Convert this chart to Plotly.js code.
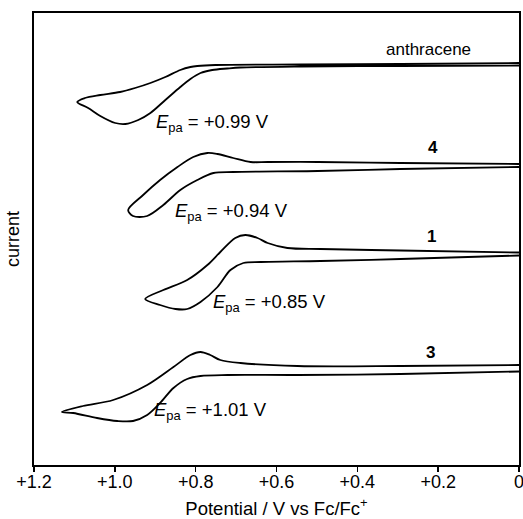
<!DOCTYPE html>
<html>
<head>
<meta charset="utf-8">
<script src="https://cdn.plot.ly/plotly-3.0.1.min.js"></script>
<style>html,body{margin:0;padding:0;background:#fff;}#chart{width:523px;height:519px;}</style>
</head>
<body>
<div id="chart"></div>
<script>
// Cyclic voltammograms (offset vertically, arbitrary current units)
// Each loop: forward scan from 0 V to the turning point, then the return scan back to 0 V.
const anthraceneE = [0.000, 0.293, 0.540, 0.689, 0.722, 0.759, 0.788, 0.813, 0.838, 0.875, 0.912, 0.942, 0.974, 0.999, 1.036, 1.066, 1.093,
                     1.074, 1.036, 0.987, 0.950, 0.912, 0.875, 0.838, 0.813, 0.796, 0.751, 0.540, 0.293, 0.000];
const anthraceneI = [39.95, 39.9, 39.85, 39.75, 39.65, 39.5, 39.2, 38.6, 37.8, 36.5, 35.2, 34.5, 34.1, 34.2, 34.9, 35.7, 36.3,
                     36.7, 37.0, 37.3, 37.7, 38.2, 38.8, 39.5, 39.8, 39.9, 40.0, 40.05, 40.1, 40.2];

const cmpd4E = [0.000, 0.293, 0.498, 0.707, 0.756, 0.796, 0.838, 0.880, 0.920, 0.955, 0.967,
                0.930, 0.888, 0.845, 0.806, 0.771, 0.746, 0.707, 0.664, 0.622, 0.498, 0.293, 0.000];
const cmpd4I = [29.8, 29.6, 29.4, 29.3, 29.2, 28.5, 27.5, 26.0, 24.9, 24.9, 25.5,
                27.0, 28.5, 29.8, 30.8, 31.2, 31.1, 30.7, 30.3, 30.3, 30.3, 30.2, 30.1];

const cmpd1E = [0.000, 0.293, 0.491, 0.639, 0.682, 0.714, 0.746, 0.788, 0.821, 0.850, 0.888, 0.925,
                0.880, 0.821, 0.771, 0.739, 0.702, 0.677, 0.647, 0.622, 0.573, 0.491, 0.293, 0.000];
const cmpd1I = [20.95, 20.6, 20.4, 20.3, 20.2, 19.5, 17.8, 16.3, 15.6, 15.6, 16.0, 16.6,
                17.5, 18.5, 20.0, 21.3, 22.7, 23.0, 22.7, 22.2, 21.7, 21.6, 21.45, 21.25];

const cmpd3E = [0.000, 0.293, 0.548, 0.721, 0.788, 0.821, 0.855, 0.888, 0.920, 0.955, 0.994, 1.044, 1.103, 1.131,
                1.079, 1.004, 0.920, 0.855, 0.813, 0.788, 0.764, 0.739, 0.689, 0.548, 0.293, 0.000];
const cmpd3I = [9.35, 9.1, 9.0, 9.0, 8.9, 8.6, 7.7, 6.2, 5.0, 4.4, 4.4, 4.7, 5.2, 5.3,
                5.9, 6.5, 8.0, 9.8, 11.0, 11.3, 11.0, 10.5, 10.2, 9.9, 9.9, 10.0];

const seriesNames = ['anthracene', '4', '1', '3'];
const seriesE = [anthraceneE, cmpd4E, cmpd1E, cmpd3E];
const seriesI = [anthraceneI, cmpd4I, cmpd1I, cmpd3I];

// Labels
const nameLabels = ['anthracene', '<b>4</b>', '<b>1</b>', '<b>3</b>'];
const nameLabelE = [0.223, 0.213, 0.216, 0.218];
const nameLabelI = [41.6, 31.8, 22.9, 11.3];
const epaValues = ['+0.99', '+0.94', '+0.85', '+1.01'];
const epaLabelE = [0.902, 0.857, 0.761, 0.909];
const epaLabelI = [34.2, 25.3, 16.2, 5.4];

const tickVals = [1.2, 1.0, 0.8, 0.6, 0.4, 0.2, 0.0];
const tickText = ['+1.2', '+1.0', '+0.8', '+0.6', '+0.4', '+0.2', '0'];

const FONT = 'Liberation Sans, Arial, Helvetica, sans-serif';

const traces = seriesNames.map((n, i) => ({
  type: 'scatter', mode: 'lines', name: n,
  x: seriesE[i], y: seriesI[i],
  line: {color: '#000', width: 1.8, shape: 'spline', smoothing: 0.9},
  hoverinfo: 'skip', cliponaxis: false
}));
// invisible carrier for the label axis
traces.push({type: 'scatter', mode: 'none', x: [tickVals[0]], y: [0], xaxis: 'x2', yaxis: 'y', hoverinfo: 'skip', showlegend: false});

const annotations = [];
nameLabels.forEach((t, i) => annotations.push({
  x: nameLabelE[i], y: nameLabelI[i], xref: 'x', yref: 'y', text: t, showarrow: false,
  xanchor: 'center', yanchor: 'middle', font: {family: FONT, size: 17, color: '#000'}
}));
epaValues.forEach((v, i) => annotations.push({
  x: epaLabelE[i], y: epaLabelI[i], xref: 'x', yref: 'y',
  text: '<i>E</i><sub>pa</sub> = ' + v + ' V', showarrow: false,
  xanchor: 'left', yanchor: 'middle', font: {family: FONT, size: 18.5, color: '#000'}
}));

const layout = {
  width: 523, height: 519,
  margin: {l: 34, r: 4, t: 13, b: 54},
  paper_bgcolor: '#fff', plot_bgcolor: '#fff',
  showlegend: false,
  font: {family: FONT, size: 18, color: '#000'},
  xaxis: {
    range: [1.2, 0], tickvals: tickVals, showticklabels: false,
    ticks: 'outside', ticklen: 5, tickwidth: 1.5, tickcolor: '#000',
    showline: true, linecolor: '#000', linewidth: 1.8, mirror: true,
    showgrid: false, zeroline: false
  },
  xaxis2: {
    overlaying: 'x', anchor: 'y', side: 'bottom',
    range: [1.2, 0], tickvals: tickVals, ticktext: tickText,
    ticks: 'outside', ticklen: 0, tickcolor: 'rgba(0,0,0,0)',
    showline: false, showgrid: false, zeroline: false,
    ticklabeloverflow: 'allow',
    tickfont: {family: FONT, size: 18, color: '#000'},
    title: {text: 'Potential / V vs Fc/Fc<sup>+</sup>', font: {family: FONT, size: 18.5, color: '#000'}, standoff: 17}
  },
  yaxis: {
    range: [0, 45.2], showticklabels: false, ticks: '',
    showline: true, linecolor: '#000', linewidth: 1.8, mirror: true,
    showgrid: false, zeroline: false,
    title: {text: 'current', font: {family: FONT, size: 18, color: '#000'}, standoff: 8}
  },
  annotations: annotations
};

Plotly.newPlot('chart', traces, layout, {displayModeBar: false, staticPlot: true});
</script>
</body>
</html>
